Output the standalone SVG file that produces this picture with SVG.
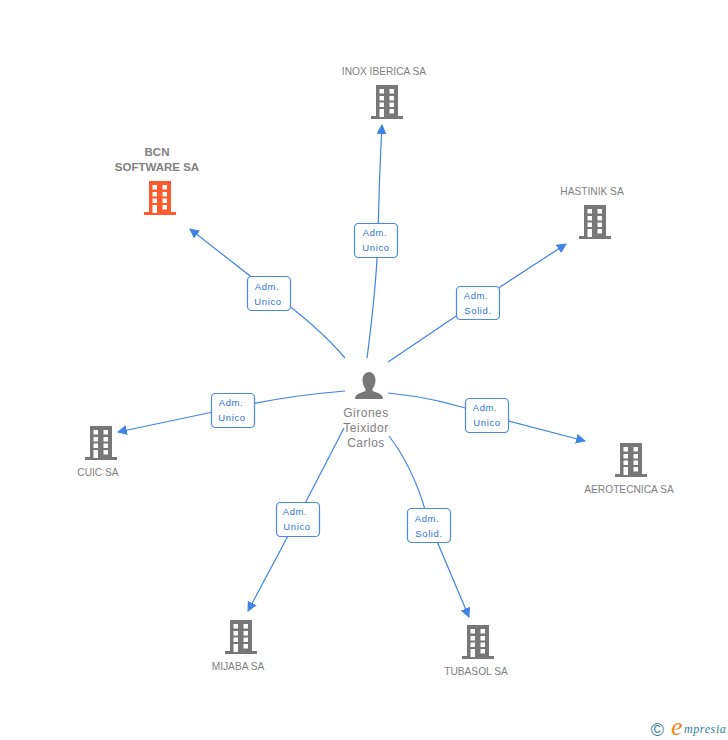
<svg xmlns="http://www.w3.org/2000/svg" width="728" height="740" viewBox="0 0 728 740">
<style>
text{font-family:"Liberation Sans",Arial,sans-serif}
.n{font-size:10.200px;fill:#808080;text-anchor:middle}
.b{font-size:11.500px;font-weight:bold;fill:#808080;text-anchor:middle}
.p{font-size:12px;fill:#808080;text-anchor:middle;letter-spacing:.5px}
.e{fill:none;stroke:#3f83e4;stroke-width:1.200}
.a{fill:#3f83e4}
.l{fill:#fff;stroke:#4a8ae6;stroke-width:1.200}
.t{font-size:9.500px;fill:#2f73d8;text-anchor:middle;letter-spacing:.6px}
</style>
<defs>
<path id="bld" fill-rule="evenodd" d="M-11 0H11V31H16V34H-16V31H-11ZM-7.500 4V8.500H-3V4ZM2.500 4V8.500H7V4ZM-7.500 11V15.500H-3V11ZM2.500 11V15.500H7V11ZM-7.500 17.500V22H-3V17.500ZM2.500 17.500V22H7V17.500ZM-7.500 24V32H-3V24ZM2.500 24V28.500H7V24Z"/>
<marker id="arr" viewBox="0 0 10 10" refX="9" refY="5" markerWidth="10" markerHeight="10" markerUnits="userSpaceOnUse" orient="auto"><path class="a" d="M0 0L10 5L0 10Z"/></marker>
</defs>
<g id="connectors">
<path class="e" marker-end="url(#arr)" d="M367 358Q376 290 378 240Q379 180 382 125"/>
<path class="e" marker-end="url(#arr)" d="M345 358Q318 326 268 290L190 229"/>
<path class="e" marker-end="url(#arr)" d="M388 362L477 302L566 244"/>
<path class="e" marker-end="url(#arr)" d="M345 391Q285 396 232 408L118 432"/>
<path class="e" marker-end="url(#arr)" d="M388 393Q440 398 486 415L585 441"/>
<path class="e" marker-end="url(#arr)" d="M344 428L297 519L248 611"/>
<path class="e" marker-end="url(#arr)" d="M389 436Q415 470 428 520L469 617"/>
</g>
<g id="edge-labels">
<g><rect class="l" x="354.500" y="223.500" width="43" height="34" rx="4"/><text class="t" x="375" y="236">Adm.</text><text class="t" x="376" y="251">Unico</text></g>
<g><rect class="l" x="247.500" y="276.500" width="43" height="34" rx="4"/><text class="t" x="267" y="290">Adm.</text><text class="t" x="268" y="305">Unico</text></g>
<g><rect class="l" x="456.500" y="286.500" width="43" height="33" rx="4"/><text class="t" x="476" y="299">Adm.</text><text class="t" x="478" y="314">Solid.</text></g>
<g><rect class="l" x="211.500" y="393.500" width="43" height="34" rx="4"/><text class="t" x="231" y="406">Adm.</text><text class="t" x="232" y="421">Unico</text></g>
<g><rect class="l" x="465.500" y="398.500" width="43" height="34" rx="4"/><text class="t" x="485" y="411">Adm.</text><text class="t" x="487" y="426">Unico</text></g>
<g><rect class="l" x="276.500" y="502.500" width="43" height="34" rx="4"/><text class="t" x="295" y="515">Adm.</text><text class="t" x="297" y="530">Unico</text></g>
<g><rect class="l" x="407.500" y="508.500" width="43" height="34" rx="4"/><text class="t" x="427" y="522">Adm.</text><text class="t" x="429" y="537">Solid.</text></g>
</g>
<g id="node-inox"><use href="#bld" x="387" y="85" fill="#777777"/><text class="n" x="384" y="75">INOX IBERICA SA</text></g>
<g id="node-bcn"><use href="#bld" x="160" y="181" fill="#ff5a2e"/><text class="b" x="157" y="156">BCN</text><text class="b" x="157" y="171">SOFTWARE SA</text></g>
<g id="node-hastinik"><use href="#bld" x="595" y="205" fill="#777777"/><text class="n" x="592" y="195">HASTINIK SA</text></g>
<g id="node-cuic"><use href="#bld" x="101" y="426" fill="#777777"/><text class="n" x="98" y="476">CUIC SA</text></g>
<g id="node-aerotecnica"><use href="#bld" x="631" y="443" fill="#777777"/><text class="n" x="629" y="493">AEROTECNICA SA</text></g>
<g id="node-mijaba"><use href="#bld" x="241" y="620" fill="#777777"/><text class="n" x="238" y="670">MIJABA SA</text></g>
<g id="node-tubasol"><use href="#bld" x="478" y="625" fill="#777777"/><text class="n" x="476" y="675">TUBASOL SA</text></g>
<g id="node-person">
<path fill="#777777" d="M369 372C373 372 375.500 376 375.500 380C375.500 384 374 387 372.500 389V391C378 393 383 394 383 399H355C355 394 360 393 365.500 391V389C364 387 362.500 384 362.500 380C362.500 376 365 372 369 372Z"/>
<text class="p" x="366" y="417">Girones</text><text class="p" x="366" y="432">Teixidor</text><text class="p" x="366" y="447">Carlos</text>
</g>
<g id="brand">
<text x="657.500" y="735.500" font-size="18" fill="#3d7f9c" text-anchor="middle">©</text>
<text x="671" y="735" font-size="26" font-style="italic" fill="#f08a1d" style="font-family:'Liberation Serif',serif">e</text>
<text x="684" y="733" font-size="12" font-style="italic" fill="#2f7f99" style="font-family:'Liberation Serif',serif" letter-spacing=".6">mpresia</text>
</g>
</svg>
